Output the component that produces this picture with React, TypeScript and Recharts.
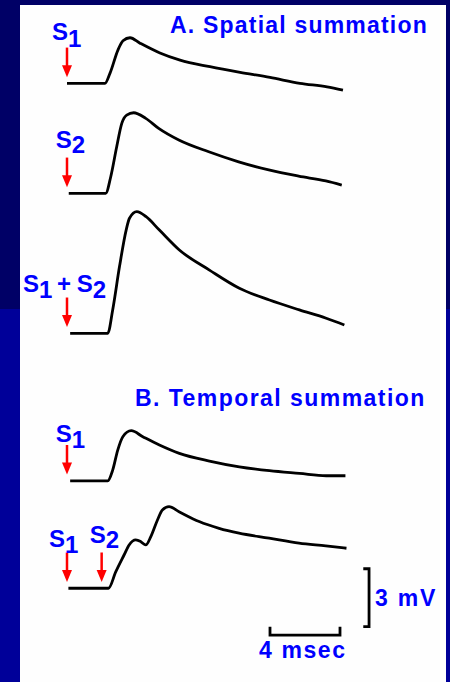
import React from 'react'
import { ComposedChart, Line, XAxis, YAxis, ReferenceLine, ReferenceDot } from 'recharts'

// each trace: [ms after its stimulus, mV above resting level]
const spatialS1 = [
  [0, 0], [2.17, 0], [2.46, 0.53], [2.91, 1.72], [3.2, 2.2], [3.6, 2.36], [4.17, 2.08],
  [5.31, 1.57], [6.46, 1.2], [8.17, 0.86], [9.89, 0.57], [11.6, 0.31], [13.31, 0],
  [14.86, -0.18], [15.77, -0.35],
]
const spatialS2 = [
  [0, 0], [2.11, 0], [2.4, 0.86], [2.74, 2.41], [3.03, 3.62], [3.31, 4.05], [3.71, 4.17],
  [4.4, 3.88], [5.14, 3.36], [6.29, 2.76], [8.0, 2.15], [9.71, 1.63], [11.43, 1.21],
  [13.14, 0.89], [14.69, 0.64], [15.6, 0.43],
]
const spatialBoth = [
  [0, 0], [2.15, 0], [2.43, 1.21], [2.82, 3.45], [3.2, 5.34], [3.39, 5.95], [3.81, 6.29],
  [4.34, 6.03], [5.1, 5.34], [6.24, 4.31], [7.96, 3.27], [9.67, 2.33], [11.39, 1.72],
  [13.1, 1.21], [14.63, 0.78], [15.67, 0.43],
]
const temporalS1 = [
  [0, 0], [2.15, 0], [2.43, 0.55], [2.72, 1.59], [3.01, 2.28], [3.49, 2.59], [4.15, 2.28],
  [5.1, 1.85], [6.24, 1.42], [7.96, 1.02], [9.67, 0.72], [11.39, 0.52], [13.1, 0.38],
  [14.63, 0.26], [15.73, 0.26],
]
const temporalS1S2 = [
  [0, 0], [2.29, 0], [2.71, 0.86], [3.18, 1.72], [3.47, 2.24], [3.85, 2.5], [4.14, 2.41],
  [4.42, 2.24], [4.71, 2.67], [5.09, 3.53], [5.37, 4.05], [5.75, 4.22], [6.32, 3.96],
  [7.47, 3.45], [8.61, 3.1], [9.75, 2.85], [11.47, 2.59], [13.18, 2.33], [14.71, 2.19],
  [15.89, 2.07],
]
// stimulus times (ms)
const stimSingle = [0]
const stimPair = [0, 1.98]
const SCALE_MS = 4
const SCALE_MV = 3

const W = 450
const H = 682
const PX_MS = 17.5
const PX_MV = 19.33
const X0 = 67
const X_MIN = -X0 / PX_MS
const X_MAX = (W - X0) / PX_MS
const Y_MAX = H / PX_MV

// where each trace sits in the figure: time shift (ms) and resting level (chart mV)
const traces = [
  { raw: spatialS1, t0: 0, rest: 30.97, stim: stimSingle },
  { raw: spatialS2, t0: 0.1, rest: 25.28, stim: stimSingle },
  { raw: spatialBoth, t0: 0.18, rest: 18.04, stim: stimSingle },
  { raw: temporalS1, t0: 0.18, rest: 10.41, stim: stimSingle },
  { raw: temporalS1S2, t0: 0.08, rest: 4.85, stim: stimPair },
]

const BLUE = '#0000ff'
const RED = '#ff0000'

const hBarY = 2.43
const hBarX = 11.6
const vBarX = 17.26
const vBarY = 2.86
const msBar = [
  { x: hBarX, y: hBarY + 0.43 }, { x: hBarX, y: hBarY },
  { x: hBarX + SCALE_MS, y: hBarY }, { x: hBarX + SCALE_MS, y: hBarY + 0.43 },
]
const mvBar = [
  { x: vBarX - 0.33, y: vBarY }, { x: vBarX, y: vBarY },
  { x: vBarX, y: vBarY + SCALE_MV }, { x: vBarX - 0.33, y: vBarY + SCALE_MV },
]

const ArrowHead = (props: any) => {
  const { cx, cy } = props
  return <polygon points={`${cx - 5},${cy - 12} ${cx + 5},${cy - 12} ${cx},${cy}`} fill={RED} />
}

const font = { fontFamily: '"Liberation Sans", Arial, sans-serif', fontWeight: 700 }

function Stim({ x, y, sub, size = 24, dy = 6.6 }: { x: number; y: number; sub: string; size?: number; dy?: number }) {
  return (
    <text x={x} y={y} fill={BLUE} style={{ ...font, fontSize: size }}>
      S<tspan dy={dy}>{sub}</tspan>
    </text>
  )
}

export default function App() {
  return (
    <div style={{ position: 'absolute', left: 0, top: 0, width: W, height: H,
      background: 'linear-gradient(#000066 0, #000066 309px, #000099 309px, #000099 100%)' }}>
      <div style={{ position: 'absolute', left: 20, top: 5, width: 426, height: 677, background: '#fefefe' }} />
      <div style={{ position: 'absolute', left: 0, top: 0 }}>
        <ComposedChart width={W} height={H} margin={{ top: 0, right: 0, bottom: 0, left: 0 }}>
          <XAxis type="number" dataKey="x" domain={[X_MIN, X_MAX]} hide allowDataOverflow />
          <YAxis type="number" dataKey="y" domain={[0, Y_MAX]} hide allowDataOverflow />
          {traces.map((tr, i) => (
            <Line
              key={'t' + i}
              data={tr.raw.map(([t, v]) => ({ x: t + tr.t0, y: v + tr.rest }))}
              dataKey="y"
              type="monotone"
              stroke="#000"
              strokeWidth={2.8}
              dot={false}
              activeDot={false}
              isAnimationActive={false}
            />
          ))}
          {traces.flatMap((tr, i) =>
            tr.stim.map((s, j) => (
              <ReferenceLine
                key={`a${i}-${j}`}
                segment={[{ x: s, y: tr.rest + 1.85 }, { x: s, y: tr.rest + 0.8 }]}
                stroke={RED}
                strokeWidth={2.5}
                ifOverflow="visible"
              />
            ))
          )}
          {traces.flatMap((tr, i) =>
            tr.stim.map((s, j) => (
              <ReferenceDot key={`h${i}-${j}`} x={s} y={tr.rest + 0.32} r={1} shape={ArrowHead} ifOverflow="visible" />
            ))
          )}
          <Line data={msBar} dataKey="y" type="linear" stroke="#000" strokeWidth={2.8} dot={false} activeDot={false} isAnimationActive={false} />
          <Line data={mvBar} dataKey="y" type="linear" stroke="#000" strokeWidth={2.8} dot={false} activeDot={false} isAnimationActive={false} />
        </ComposedChart>
      </div>
      <svg width={W} height={H} style={{ position: 'absolute', left: 0, top: 0 }}>
        <text x={170} y={33} fill={BLUE} style={{ ...font, fontSize: 23, letterSpacing: 1.2 }}>A. Spatial summation</text>
        <text x={135} y={406} fill={BLUE} style={{ ...font, fontSize: 23, letterSpacing: 1.45 }}>B. Temporal summation</text>
        <Stim x={52} y={40} sub="1" />
        <Stim x={55.7} y={148.3} sub="2" dy={5} />
        <Stim x={23} y={291.7} sub="1" />
        <text x={57} y={291.5} fill={BLUE} style={{ ...font, fontSize: 24 }}>+</text>
        <Stim x={76.7} y={291.7} sub="2" />
        <Stim x={55.7} y={441.7} sub="1" />
        <Stim x={49} y={546.7} sub="1" />
        <Stim x={89.7} y={543.3} sub="2" dy={5} />
        <text x={375} y={606} fill={BLUE} style={{ ...font, fontSize: 23, letterSpacing: 1.8 }}>3 mV</text>
        <text x={259} y={658} fill={BLUE} style={{ ...font, fontSize: 23, letterSpacing: 1.6 }}>4 msec</text>
      </svg>
    </div>
  )
}
